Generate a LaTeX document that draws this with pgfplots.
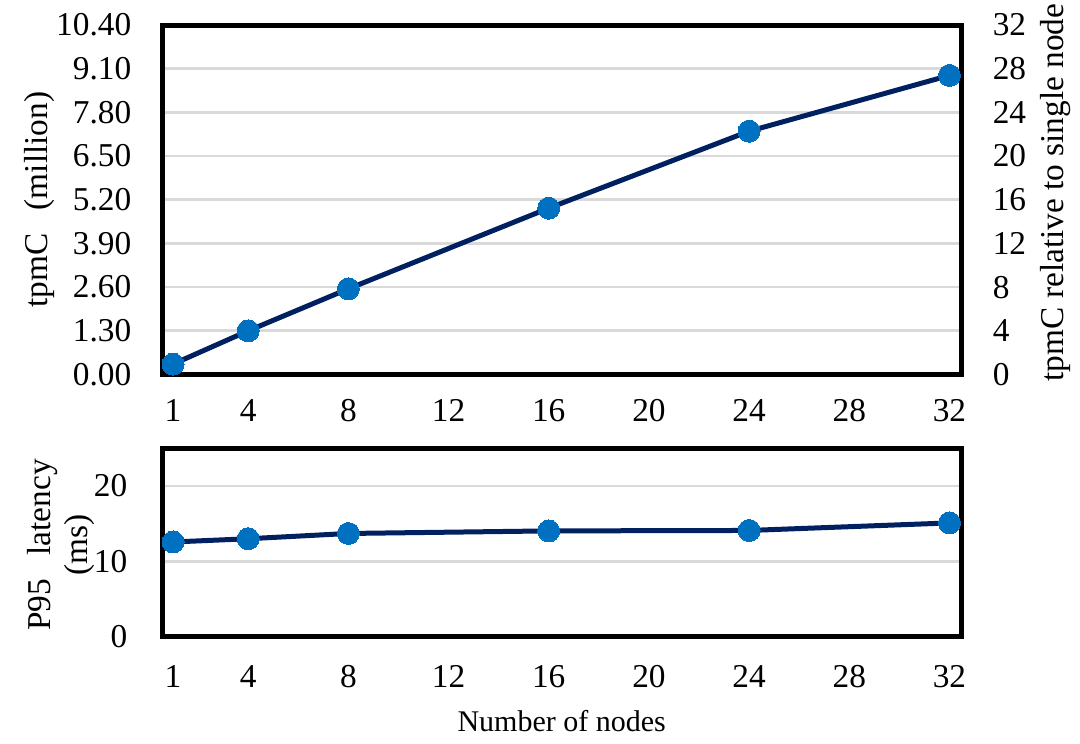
\documentclass[border=0pt]{standalone}
\usepackage{fontspec}
\setmainfont{Liberation Serif}
\usepackage{pgfplots}
\pgfplotsset{compat=1.18}
\definecolor{navyline}{HTML}{002060}
\definecolor{mkblue}{HTML}{0070C0}
\definecolor{gridgray}{HTML}{D9D9D9}

\begin{document}
\begin{tikzpicture}
\pgfplotsset{
  common/.style={
    scale only axis,
    width=239.6pt,
    xmin=0.573, xmax=32.46,
    xtick={1,4,8,12,16,20,24,28,32},
    /pgf/number format/assume math mode=true,
    tick style={draw=none},
    major tick length=0pt,
    axis line style={line width=1.5pt, black},
    ymajorgrids,
    grid style={gridgray, line width=0.8pt},
    tick label style={font=\fontsize{10}{12}\selectfont},
    clip=false,
  },
  myline/.style={
    navyline, line width=1.5pt,
    mark=*, mark size=3.3pt,
    mark options={draw=mkblue, fill=mkblue, line width=0pt},
  },
}

% ---------- top axis (tpmC) ----------
\begin{axis}[common,
  name=top,
  at={(0,0)}, anchor=north west,
  height=104.85pt,
  ymin=0, ymax=10.4,
  ytick={0,1.3,2.6,3.9,5.2,6.5,7.8,9.1,10.4},
  yticklabel style={/pgf/number format/fixed,
                    /pgf/number format/fixed zerofill,
                    /pgf/number format/precision=2,
                    xshift=-5.8pt},
  xticklabel style={yshift=-4pt},
  every axis y label/.style={
    at={([xshift=-37pt]axis description cs:0,0.5)},
    anchor=center, rotate=90,
    font=\fontsize{10}{12}\selectfont},
  ylabel={tpmC\hspace{7pt}(million)},
]
\addplot[myline] coordinates {
  (1,0.31) (4,1.30) (8,2.55) (16,4.95) (24,7.24) (32,8.90)
};
\end{axis}

% ---------- right axis overlay ----------
\begin{axis}[
  scale only axis,
  width=239.6pt, height=104.85pt,
  at={(0,0)}, anchor=north west,
  xmin=0.573, xmax=32.46,
  ymin=0, ymax=32,
  ytick={0,4,8,12,16,20,24,28,32},
  axis x line=none,
  axis y line*=right,
  y axis line style={draw=none},
  tick style={draw=none},
  major tick length=0pt,
  /pgf/number format/assume math mode=true,
  tick label style={font=\fontsize{10}{12}\selectfont},
  yticklabel style={anchor=west, xshift=6pt},
  every axis y label/.style={
    at={([xshift=28.5pt, yshift=2.2pt]axis description cs:1,0.5)},
    anchor=center, rotate=90,
    font=\fontsize{10}{12}\selectfont},
  ylabel={tpmC relative to single node},
]
\addplot[draw=none, mark=none] coordinates {(1,0) (32,0)};
\end{axis}

% ---------- bottom axis (latency) ----------
\begin{axis}[common,
  at={(0,-127.0pt)}, anchor=north west,
  height=56.5pt,
  ymin=0, ymax=25,
  ytick={0,10,20},
  yticklabel style={xshift=-7pt},
  xticklabel style={yshift=-5.2pt},
  every axis y label/.style={
    at={([xshift=-30.4pt, yshift=-0.75pt]axis description cs:0,0.5)},
    anchor=center, rotate=90, align=center,
    font=\fontsize{10}{11}\selectfont},
  ylabel={P95\hspace{7pt}latency\\(ms)},
  every axis x label/.style={
    at={([yshift=-28.5pt]axis description cs:0.5,0)},
    anchor=base,
    font=\fontsize{9}{11}\selectfont},
  xlabel={Number of nodes},
]
\addplot[myline] coordinates {
  (1,12.57) (4,13.0) (8,13.7) (16,14.04) (24,14.1) (32,15.1)
};
\end{axis}

\pgfresetboundingbox
\useasboundingbox (-48.7pt,-215.4pt) rectangle (275.3pt,7.5pt);
\end{tikzpicture}
\end{document}
